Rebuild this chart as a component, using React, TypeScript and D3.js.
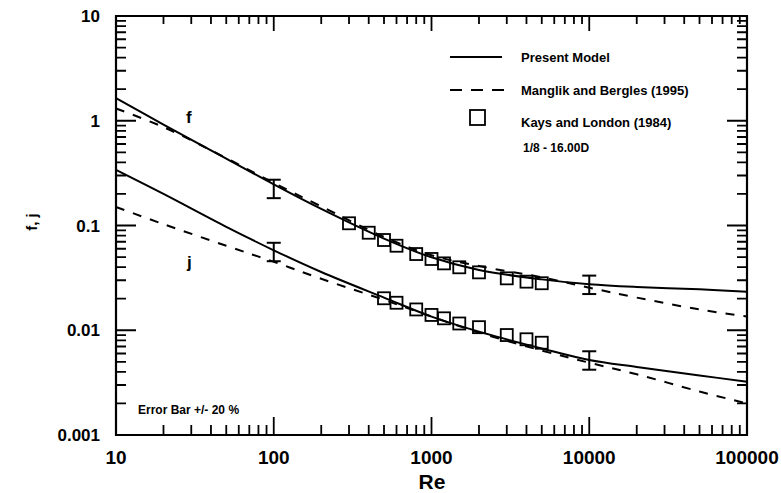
import React from 'react';
import * as d3 from 'd3';

// Re grid used for the two model curves
const reGrid = [10, 20, 50, 100, 200, 500, 1000, 2000, 5000, 10000, 20000, 50000, 100000];
const fModel = [1.64, 0.92, 0.436, 0.247, 0.144, 0.075, 0.0497, 0.0376, 0.0306, 0.0275, 0.0259, 0.0246, 0.0233];
const fManglik = [1.31, 0.87, 0.44, 0.255, 0.152, 0.078, 0.052, 0.041, 0.032, 0.0255, 0.0205, 0.0158, 0.0135];
const jModel = [0.339, 0.2, 0.097, 0.058, 0.036, 0.0205, 0.0135, 0.0097, 0.0067, 0.0052, 0.00446, 0.0037, 0.00323];
const jManglik = [0.15, 0.103, 0.064, 0.045, 0.031, 0.0195, 0.0135, 0.0095, 0.0064, 0.0049, 0.0038, 0.0026, 0.002];

// Kays and London (1984) data
const kfRe = [300, 400, 500, 600, 800, 1000, 1200, 1500, 2000, 3000, 4000, 5000];
const kf = [0.105, 0.0853, 0.0727, 0.0641, 0.0534, 0.0479, 0.0435, 0.0399, 0.0357, 0.0313, 0.0291, 0.0281];
const kjRe = [500, 600, 800, 1000, 1200, 1500, 2000, 3000, 4000, 5000];
const kj = [0.0202, 0.0183, 0.0158, 0.014, 0.013, 0.0116, 0.0107, 0.009, 0.0082, 0.0076];

// error bars +/- 20 %
const errRe = [100, 10000];
const errF = [0.228, 0.0277];
const errJ = [0.057, 0.00525];

const xMajor = [10, 100, 1000, 10000, 100000];
const yMajor = [0.001, 0.01, 0.1, 1, 10];
const yLabels = ['0.001', '0.01', '0.1', '1', '10'];

const minorOf = (majors: number[]) => {
  const out: number[] = [];
  majors.slice(0, -1).forEach(m => {
    for (let k = 2; k <= 9; k++) out.push(m * k);
  });
  return out;
};

const W = 781, H = 493;
const left = 116, right = 747, top = 16, bottom = 435;
const font = 'Liberation Sans, Arial, Helvetica, sans-serif';

const x = d3.scaleLog().domain([10, 100000]).range([left, right]);
const y = d3.scaleLog().domain([0.001, 10]).range([bottom, top]);

const line = d3.line<[number, number]>()
  .x(d => x(d[0])).y(d => y(d[1]))
  .curve(d3.curveCatmullRom.alpha(0.5));

export default function App() {
  const series = [
    { v: fModel, dash: undefined },
    { v: jModel, dash: undefined },
    { v: fManglik, dash: '9,9' },
    { v: jManglik, dash: '9,9' },
  ];
  const pts = [
    ...kfRe.map((r, i) => [r, kf[i]]),
    ...kjRe.map((r, i) => [r, kj[i]]),
  ];
  const bars = [
    ...errRe.map((r, i) => [r, errF[i]]),
    ...errRe.map((r, i) => [r, errJ[i]]),
  ];
  const sq = 12;

  // tick marks, all pointing inward
  let ticks = '';
  const addX = (vals: number[], yy: number, len: number) =>
    vals.forEach(d => { ticks += `M${x(d)},${yy}V${yy + len}`; });
  const addY = (vals: number[], xx: number, len: number) =>
    vals.forEach(d => { ticks += `M${xx},${y(d)}H${xx + len}`; });
  addX(xMajor, bottom, -18);
  addX(minorOf(xMajor), bottom, -10);
  addX(xMajor, top, 15);
  addX(minorOf(xMajor), top, 8);
  addY(yMajor, left, 20);
  addY(minorOf(yMajor), left, 10);
  addY(yMajor, right, -20);
  addY(minorOf(yMajor), right, -10);

  const frame = `M${left},${top}H${right}V${bottom}H${left}Z`;

  return (
    <svg width={W} height={H}
      style={{ position: 'absolute', left: 0, top: 0, background: '#fff' }}>
      <path d={ticks} fill="none" stroke="#000" strokeWidth={1.8} />
      <path d={frame} fill="none" stroke="#000" strokeWidth={2.2} />

      {/* tick labels */}
      <g fontFamily={font} fontWeight="bold">
        {xMajor.map(d => (
          <text key={'xl' + d} x={x(d)} y={464} textAnchor="middle" fontSize={19}>{String(d)}</text>
        ))}
        {yMajor.map((d, i) => (
          <text key={'yl' + d} x={100} y={y(d) + 6} textAnchor="end" fontSize={17}>{yLabels[i]}</text>
        ))}
        <text x={432} y={489} textAnchor="middle" fontSize={21}>Re</text>
        <text transform="translate(37,222) rotate(-90)" textAnchor="middle" fontSize={15}>f, j</text>
      </g>

      {/* curves */}
      {series.map((s, k) => (
        <path key={'s' + k}
          d={line(reGrid.map((r, i) => [r, s.v[i]] as [number, number])) || ''}
          fill="none" stroke="#000" strokeWidth={2} strokeDasharray={s.dash} />
      ))}

      {/* Kays and London squares */}
      {pts.map((d, i) => (
        <rect key={'p' + i} x={x(d[0]) - sq / 2} y={y(d[1]) - sq / 2} width={sq} height={sq}
          fill="none" stroke="#000" strokeWidth={1.8} />
      ))}

      {/* error bars */}
      <g stroke="#000" strokeWidth={2}>
        {bars.map((b, i) => {
          const cx = x(b[0]);
          const y1 = y(b[1] * 1.2), y2 = y(b[1] * 0.8);
          return (
            <g key={'e' + i}>
              <line x1={cx} x2={cx} y1={y1} y2={y2} />
              <line x1={cx - 7} x2={cx + 7} y1={y1} y2={y1} />
              <line x1={cx - 7} x2={cx + 7} y1={y2} y2={y2} />
            </g>
          );
        })}
      </g>

      {/* annotations */}
      <g fontFamily={font} fontWeight="bold">
        <text x={186} y={123} fontSize={17}>f</text>
        <text x={187} y={268} fontSize={17}>j</text>
        <text x={138} y={414} fontSize={12}>Error Bar +/- 20 %</text>
      </g>

      {/* legend */}
      <line x1={450} x2={502} y1={57} y2={57} stroke="#000" strokeWidth={2} />
      <line x1={450} x2={504} y1={90} y2={90} stroke="#000" strokeWidth={2} strokeDasharray="12,9" />
      <rect x={470} y={110} width={15} height={15} fill="none" stroke="#000" strokeWidth={1.8} />
      <g fontFamily={font} fontWeight="bold" fontSize={13}>
        <text x={521} y={62}>Present Model</text>
        <text x={521} y={95}>Manglik and Bergles (1995)</text>
        <text x={521} y={127}>Kays and London (1984)</text>
        <text x={523} y={152} fontSize={12}>1/8 - 16.00D</text>
      </g>
    </svg>
  );
}
